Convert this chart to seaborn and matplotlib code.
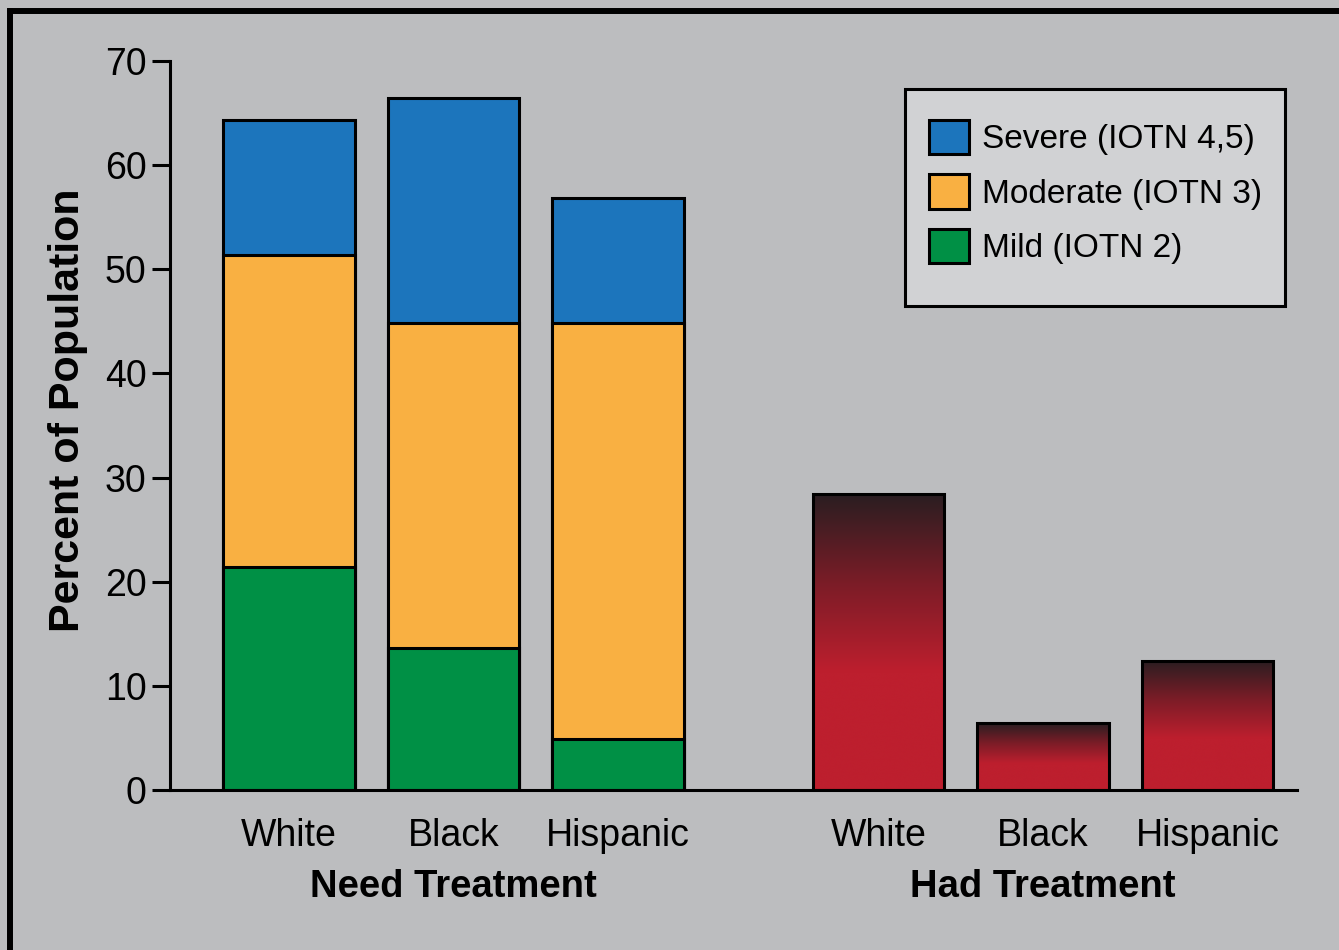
import numpy as np
import pandas as pd
import matplotlib
matplotlib.use("Agg")
import matplotlib.pyplot as plt
from matplotlib.patches import Patch, Rectangle
from matplotlib.lines import Line2D
from matplotlib.colors import LinearSegmentedColormap
import matplotlib.transforms as mtransforms
import seaborn as sns

# ---- data -------------------------------------------------------------
groups = ["White", "Black", "Hispanic"]
mild = [21.4, 13.6, 4.9]        # IOTN 2
moderate = [30.0, 31.2, 39.9]   # IOTN 3
severe = [12.9, 21.6, 12.0]     # IOTN 4,5
had_treatment = [28.4, 6.4, 12.4]

legend_labels = ["Severe (IOTN 4,5)", "Moderate (IOTN 3)", "Mild (IOTN 2)"]
group_titles = ["Need Treatment", "Had Treatment"]
y_label = "Percent of Population"

need_pos = [0.0, 1.0, 2.0]
had_pos = [3.585, 4.585, 5.585]

# ---- style ------------------------------------------------------------
BG = "#bcbdbf"
C_SEVERE = "#1c75bc"
C_MODERATE = "#f9b042"
C_MILD = "#009045"
C_RED = "#bd1f2e"
C_DARK = "#2a1e21"

sns.set_style("white")
plt.rcParams["font.family"] = ["Liberation Sans", "DejaVu Sans"]
plt.rcParams.update({"text.color": "black", "axes.labelcolor": "black",
                     "xtick.color": "black", "ytick.color": "black"})

fig = plt.figure(figsize=(13.39, 9.5), dpi=100, facecolor=BG)
ax = fig.add_axes([170 / 1339, 1 - 790 / 950, (1297 - 170) / 1339, (790 - 61) / 950])
ax.set_facecolor(BG)

mild_a = np.array(mild)
mod_top = mild_a + np.array(moderate)
sev_top = mod_top + np.array(severe)

need_df = pd.DataFrame({"x": need_pos, "mild": mild_a, "moderate": mod_top, "severe": sev_top})
had_df = pd.DataFrame({"x": had_pos, "had": had_treatment})

bar_kw = dict(native_scale=True, width=0.8, edgecolor="black", linewidth=2.2, ax=ax)
# stacked: draw cumulative tops, largest first
sns.barplot(data=need_df, x="x", y="severe", color=C_SEVERE, saturation=1, **bar_kw)
sns.barplot(data=need_df, x="x", y="moderate", color=C_MODERATE, saturation=1, **bar_kw)
sns.barplot(data=need_df, x="x", y="mild", color=C_MILD, saturation=1, **bar_kw)
n_before = len(ax.patches)
sns.barplot(data=had_df, x="x", y="had", color=C_RED, saturation=1, **bar_kw)
had_patches = ax.patches[n_before:]

# dark-to-red vertical gradient for the "had treatment" bars
grad_cmap = LinearSegmentedColormap.from_list(
    "had", [(0.0, C_DARK), (0.3, "#7b1c27"), (0.6, C_RED), (1.0, C_RED)])
grad = np.linspace(0, 1, 256).reshape(-1, 1)
for p in had_patches:
    x0, y0 = p.get_x(), p.get_y()
    w, h = p.get_width(), p.get_height()
    im = ax.imshow(grad, cmap=grad_cmap, aspect="auto", origin="upper",
                   extent=(x0, x0 + w, y0, y0 + h), zorder=p.get_zorder() - 0.1,
                   interpolation="bicubic")
    im.set_clip_path(p)
    p.set_facecolor("none")
    p.set_zorder(p.get_zorder() + 0.2)

# ---- axes -------------------------------------------------------------
ax.set_xlim(-0.723, 6.128)
ax.set_ylim(0, 70)
ax.set_yticks(range(0, 71, 10))
ax.set_xticks(need_pos + had_pos)
ax.set_xticklabels(groups + groups)
ax.tick_params(axis="x", length=0, pad=20, labelsize=27)
ax.tick_params(axis="y", length=13, width=2.2, pad=4, labelsize=27, direction="out", left=True)
ax.set_xlabel("")
ax.set_ylabel(y_label, fontsize=31, fontweight="bold")
ax.yaxis.set_label_coords(-0.0725, 0.521)
for side in ("top", "right"):
    ax.spines[side].set_visible(False)
for side in ("left", "bottom"):
    ax.spines[side].set_linewidth(2.2)
    ax.spines[side].set_color("black")

# group titles beneath the tick labels
blend = mtransforms.blended_transform_factory(ax.transData, fig.transFigure)
ax.text(need_pos[1], 1 - 887 / 950, group_titles[0], transform=blend,
        ha="center", va="center", fontsize=27.5, fontweight="bold")
ax.text(had_pos[1], 1 - 887 / 950, group_titles[1], transform=blend,
        ha="center", va="center", fontsize=27.5, fontweight="bold")

# legend panel
W, H = 1339, 950
fig.add_artist(Rectangle((905 / W, 1 - 306 / H), (1285 - 905) / W, (306 - 89) / H,
                         transform=fig.transFigure, facecolor="#d1d2d4",
                         edgecolor="black", linewidth=2.2, zorder=3))
handles = [Patch(facecolor=c, edgecolor="black", linewidth=2.2)
           for c in (C_SEVERE, C_MODERATE, C_MILD)]
leg = fig.legend(handles, legend_labels, loc="upper left",
                 bbox_to_anchor=(902 / W, 1 - 93 / H), bbox_transform=fig.transFigure,
                 borderaxespad=0, fontsize=24, handlelength=1.2, handleheight=1.2,
                 handletextpad=0.4, labelspacing=0.58, borderpad=0.8, frameon=False)
leg.set_zorder(4)

# figure frame (top and left edges)
fig.add_artist(Line2D([10 / W, 1.0], [1 - 11 / H, 1 - 11 / H],
                      transform=fig.transFigure, color="black", linewidth=4.3))
fig.add_artist(Line2D([10 / W, 10 / W], [0.0, 1 - 11 / H],
                      transform=fig.transFigure, color="black", linewidth=4.3,
                      solid_capstyle="projecting"))

fig.savefig("out.png", dpi=100, facecolor=BG)
